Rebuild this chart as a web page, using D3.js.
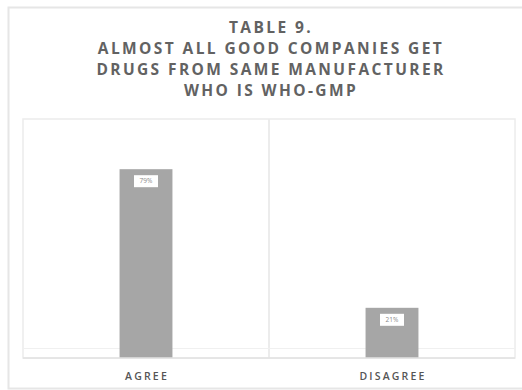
<!DOCTYPE html>
<html>
<head>
<meta charset="utf-8">
<script src="https://cdn.jsdelivr.net/npm/d3@7"></script>
<style>
  html, body { margin: 0; padding: 0; background: #fff; }
  svg { display: block; }
</style>
</head>
<body>
<script>
// Survey response shares
const categories = ["AGREE", "DISAGREE"];
const values = [79, 21];
const valueLabels = ["79%", "21%"];
const titleLines = [
  "TABLE 9.",
  "ALMOST ALL GOOD COMPANIES GET",
  "DRUGS FROM SAME MANUFACTURER",
  "WHO IS WHO-GMP"
];

const W = 522, H = 390;
const plot = { left: 23, right: 515, top: 119, bottom: 358 };

const svg = d3.select("body").append("svg")
  .attr("width", W).attr("height", H);

// outer chart frame
svg.append("rect")
  .attr("x", 8.5).attr("y", 7.5)
  .attr("width", W).attr("height", H - 9)
  .attr("fill", "#fff").attr("stroke", "#e6e6e6").attr("stroke-width", 2);

// title
svg.append("g").selectAll("text")
  .data(titleLines)
  .join("text")
  .attr("x", (plot.left + plot.right) / 2 + 2)
  .attr("y", (d, i) => 33 + i * 21)
  .attr("text-anchor", "middle")
  .attr("font-family", "'Open Sans', sans-serif")
  .attr("font-weight", 700)
  .attr("font-size", 15.5)
  .attr("letter-spacing", 2.4)
  .attr("fill", "#626262")
  .text(d => d);

const x = d3.scaleBand()
  .domain(categories)
  .range([plot.left, plot.right])
  .paddingInner(0).paddingOuter(0);

const y = d3.scaleLinear()
  .domain([0, 100])
  .range([plot.bottom, plot.top]);

// plot area box and category dividers
svg.append("rect")
  .attr("x", plot.left).attr("y", plot.top)
  .attr("width", plot.right - plot.left).attr("height", plot.bottom - plot.top)
  .attr("fill", "none").attr("stroke", "#ececec").attr("stroke-width", 1.5);

svg.append("g").selectAll("line")
  .data(categories.slice(1))
  .join("line")
  .attr("x1", d => x(d)).attr("x2", d => x(d))
  .attr("y1", plot.top).attr("y2", plot.bottom)
  .attr("stroke", "#ececec").attr("stroke-width", 2);

svg.append("line")
  .attr("x1", plot.left).attr("x2", plot.right)
  .attr("y1", y(4)).attr("y2", y(4))
  .attr("stroke", "#f0f0f0").attr("stroke-width", 1);

// bars
const barW = x.bandwidth() * 0.215;
svg.append("g").selectAll("rect")
  .data(values)
  .join("rect")
  .attr("x", (d, i) => x(categories[i]) + x.bandwidth() / 2 - barW / 2)
  .attr("y", d => y(d))
  .attr("width", barW)
  .attr("height", d => y(0) - y(d))
  .attr("fill", "#a6a6a6");

// baseline
svg.append("line")
  .attr("x1", plot.left).attr("x2", plot.right)
  .attr("y1", plot.bottom).attr("y2", plot.bottom)
  .attr("stroke", "#e2e2e2").attr("stroke-width", 1.5);

// value labels in white boxes
const lab = svg.append("g").selectAll("g")
  .data(values)
  .join("g")
  .attr("transform", (d, i) =>
    `translate(${x(categories[i]) + x.bandwidth() / 2},${y(d) + 12})`);
lab.append("rect")
  .attr("x", -12).attr("y", -6).attr("width", 24).attr("height", 12)
  .attr("fill", "#fff");
lab.append("text")
  .attr("text-anchor", "middle").attr("dy", "0.35em")
  .attr("font-family", "'Open Sans', sans-serif")
  .attr("font-size", 6.5)
  .attr("fill", "#8a8a8a")
  .text((d, i) => valueLabels[i]);

// category axis
const xAxis = svg.append("g")
  .attr("transform", `translate(0,${plot.bottom})`)
  .call(d3.axisBottom(x).tickSize(0).tickPadding(14.5));
xAxis.select(".domain").remove();
xAxis.selectAll("text")
  .attr("dx", 1)
  .attr("font-family", "'Open Sans', sans-serif")
  .attr("font-weight", 600)
  .attr("font-size", 10.5)
  .attr("letter-spacing", 2.2)
  .attr("fill", "#555");
</script>
</body>
</html>
